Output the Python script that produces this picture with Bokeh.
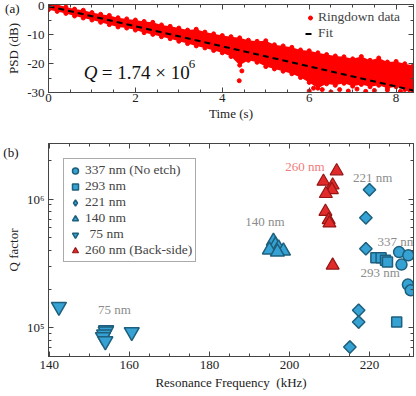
from bokeh.plotting import figure
from bokeh.layouts import column
from bokeh.models import (ColumnDataSource, Label, Legend, LegendItem, LinearAxis, LogAxis,
                          SingleIntervalTicker, FixedTicker, CustomJSTickFormatter)
from bokeh.core.properties import value
from bokeh.embed import file_html
from bokeh.resources import INLINE

FONT = "Liberation Serif"

# ---------------- panel (a): ringdown ----------------
ring_t = [0.0, 0.2, 0.4, 0.6, 0.8, 1.0, 1.2, 1.4, 1.6, 1.8, 2.0, 2.2, 2.4, 2.6, 2.8,
          3.0, 3.2, 3.4, 3.6, 3.8, 4.0, 4.2, 4.4, 4.6, 4.8, 5.0, 5.2, 5.4, 5.6, 5.8,
          6.0, 6.2, 6.4, 6.6, 6.8, 7.0, 7.2, 7.4, 7.6, 7.8, 8.0, 8.2, 8.4]
ring_hi = [1.0, 0.6, -0.3, -1.0, -1.4, -2.2, -2.8, -3.2, -4.0, -4.4, -4.8, -5.3, -5.6, -6.5, -7.0,
           -7.6, -8.3, -8.0, -9.0, -9.6, -10.2, -10.6, -11.0, -11.8, -12.2, -12.0, -13.4, -13.8, -14.3, -15.2,
           -15.5, -16.2, -16.8, -17.3, -17.6, -18.3, -17.5, -18.8, -18.0, -19.4, -19.2, -20.0, -20.6]
ring_lo = [-1.2, -1.8, -2.5, -3.4, -4.1, -4.8, -5.6, -6.4, -7.2, -7.6, -8.3, -9.2, -9.8, -10.6, -11.3,
           -12.2, -13.0, -13.8, -14.5, -15.4, -16.2, -17.5, -20.5, -18.8, -19.5, -21.0, -21.8, -22.6, -23.5, -24.8,
           -26.5, -28.5, -27.0, -27.5, -26.8, -27.8, -27.2, -28.0, -27.5, -28.5, -28.0, -29.0, -30.0]
out_t = [4.39, 4.45, 6.0, 6.1, 6.3, 6.5, 6.7, 6.9, 7.1, 7.3, 7.5, 7.8, 8.1, 8.3]
out_psd = [-25.9, -22.5, -29.5, -28.5, -29.0, -29.8, -29.0, -29.5, -28.8, -29.6, -29.3, -29.2, -29.6, -29.0]
fit_t = [0.0, 8.4]
fit_psd = [0.0, -29.3]

# ---------------- panel (b): Q vs frequency ----------------
f337 = [227.4, 229.7, 228.0, 229.6, 230.3]
q337 = [3.88e5, 3.66e5, 3.10e5, 2.17e5, 1.96e5]
f293 = [221.6, 222.9, 224.0, 224.5, 226.8]
q293 = [3.5e5, 3.5e5, 3.35e5, 3.25e5, 1.11e5]
f221 = [220.0, 219.1, 219.1, 217.3, 217.3, 215.1]
q221 = [1.18e6, 7.16e5, 4.12e5, 1.37e5, 1.11e5, 7.1e4]
f140 = [196.0, 196.5, 197.3, 198.5, 195.0, 197.0]
q140 = [4.72e5, 4.40e5, 4.17e5, 3.95e5, 4.03e5, 3.88e5]
f75 = [142.4, 154.2, 154.1, 153.7, 153.4, 154.0, 160.6]
q75 = [1.46e5, 9.6e4, 9.4e4, 8.9e4, 8.5e4, 7.9e4, 9.3e4]
f260 = [211.8, 208.5, 210.8, 210.6, 209.1, 209.0, 209.8, 210.0, 210.8]
q260 = [1.65e6, 1.37e6, 1.28e6, 1.18e6, 1.10e6, 8.0e5, 6.9e5, 6.5e5, 3.06e5]

ann_text = ["260 nm", "221 nm", "140 nm", "337 nm", "293 nm", "75 nm"]
ann_f = [203.9, 220.8, 193.9, 226.9, 222.7, 156.3]
ann_q = [1.80e6, 1.48e6, 6.64e5, 4.67e5, 2.67e5, 1.40e5]
ann_color = ["#f27b7b", "#8c8c8c", "#8c8c8c", "#8c8c8c", "#8c8c8c", "#8c8c8c"]

legend_labels = ["337 nm (No etch)", "293 nm", "221 nm", "140 nm", "\u200475 nm", "260 nm (Back-side)"]
panel_tags = ["(a)", "(b)"]

BLUE_F, BLUE_L = "#36a2d4", "#1d5f7c"
RED_F, RED_L = "#e12b2b", "#951515"
AX = "#444444"
BLANK = CustomJSTickFormatter(code="return ''")


def style_axis(ax, labels=True, tick_std=4, lab_std=4):
    ax.axis_line_color = AX
    ax.major_tick_line_color = AX
    ax.minor_tick_line_color = AX
    ax.major_tick_in = 5
    ax.major_tick_out = 0
    ax.minor_tick_in = 3
    ax.minor_tick_out = 0
    ax.major_label_text_font = FONT
    ax.major_label_text_color = "#222222"
    ax.major_label_text_font_size = "13px"
    ax.axis_label_text_font = FONT
    ax.axis_label_text_font_style = "normal"
    ax.axis_label_text_font_size = "13px"
    ax.axis_label_text_color = "#222222"
    if labels:
        ax.major_label_standoff = tick_std
        ax.axis_label_standoff = lab_std
    else:
        ax.formatter = BLANK
        ax.major_label_standoff = 0


def tag_axis(axis_cls, tick, tag):
    # an outer, line-less axis whose single tick label is the panel tag
    ax = axis_cls(ticker=FixedTicker(ticks=[tick], minor_ticks=[]),
                  formatter=CustomJSTickFormatter(code="return '%s'" % tag))
    ax.axis_line_color = None
    ax.major_tick_line_color = None
    ax.minor_tick_line_color = None
    ax.major_tick_in = 0
    ax.major_tick_out = 0
    ax.major_label_standoff = -16
    ax.major_label_text_font = FONT
    ax.major_label_text_font_size = "13px"
    ax.major_label_text_color = "#111111"
    return ax


# ---- figure (a)
p1 = figure(width=415, height=126, x_range=(0, 8.4), y_range=(-30, 0.6),
            output_backend="svg", toolbar_location=None,
            min_border_left=48, min_border_right=2, min_border_top=4, min_border_bottom=34)
p1.grid.visible = False
p1.outline_line_color = AX

p1.varea(x=ring_t, y1=ring_lo, y2=ring_hi, fill_color="#ff0000")
r_data = p1.scatter(ring_t + ring_t + out_t, ring_hi + ring_lo + out_psd, size=4,
                    marker="circle", fill_color="#ff0000", line_color="#ff0000")
r_fit = p1.line(fit_t, fit_psd, line_color="black", line_width=2, line_dash="6 4")

p1.xaxis.ticker = SingleIntervalTicker(interval=2, num_minor_ticks=4)
p1.yaxis.ticker = SingleIntervalTicker(interval=10, num_minor_ticks=2)
p1.xaxis.axis_label = "Time (s)"
p1.yaxis.axis_label = "PSD (dB)"
for ax in p1.xaxis:
    style_axis(ax, tick_std=1, lab_std=1)
for ax in p1.yaxis:
    style_axis(ax, tick_std=4, lab_std=3)
p1.yaxis.major_label_overrides = {0: "0", -10: "-10", -20: "-20", -30: "-30"}
top1 = LinearAxis(ticker=SingleIntervalTicker(interval=2, num_minor_ticks=4))
right1 = LinearAxis(ticker=SingleIntervalTicker(interval=10, num_minor_ticks=2))
style_axis(top1, labels=False)
style_axis(right1, labels=False)
p1.add_layout(top1, "above")
p1.add_layout(right1, "right")
p1.add_layout(tag_axis(LinearAxis, -0.9, panel_tags[0]), "left")

leg1 = Legend(items=[LegendItem(label="Ringdown data", renderers=[r_data]),
                     LegendItem(label="Fit", renderers=[r_fit])],
              location="top_right", padding=2, spacing=0, margin=3,
              glyph_width=10, glyph_height=13, label_height=13, label_standoff=3,
              label_width=90,
              label_text_font=FONT, label_text_font_size="13.5px",
              border_line_alpha=0, background_fill_alpha=0)
p1.add_layout(leg1)

q_kw = dict(y=-23.1, text_font=FONT, text_font_size="19px", text_color="#111111",
            text_baseline="alphabetic")
p1.add_layout(Label(x=0.81, text="Q", text_font_style="italic", **q_kw))
p1.add_layout(Label(x=0.81, x_offset=18, text="= 1.74 \u00d7 10", **q_kw))
p1.add_layout(Label(x=0.81, x_offset=105, y=-23.1, y_offset=9, text="6", text_font=FONT,
                    text_font_size="13px", text_color="#111111", text_baseline="alphabetic"))

# ---- figure (b)
p2 = figure(width=415, height=269, x_range=(139.8, 231.0), y_range=(6.0e4, 2.7e6),
            y_axis_type="log", output_backend="svg", toolbar_location=None,
            min_border_left=48, min_border_right=2, min_border_top=17, min_border_bottom=39)
p2.grid.visible = False
p2.outline_line_color = AX

r337 = p2.scatter(f337, q337, marker="circle", size=11, fill_color=BLUE_F, line_color=BLUE_L, line_width=1.5)
r293 = p2.scatter(f293, q293, marker="square", size=10, fill_color=BLUE_F, line_color=BLUE_L, line_width=1.5)
r221_leg = p2.scatter(f221, q221, marker="diamond", size=12, fill_color=BLUE_F, line_color=BLUE_L, line_width=1.5)
p2.scatter(f221, q221, marker="square", angle=0.7854, size=8.8, fill_color=BLUE_F, line_color=BLUE_L, line_width=1.5)
r140 = p2.scatter(f140, q140, marker="triangle", size=14, fill_color=BLUE_F, line_color=BLUE_L, line_width=1.5)
r75 = p2.scatter(f75, q75, marker="inverted_triangle", size=15, fill_color=BLUE_F, line_color=BLUE_L, line_width=1.5)
r260 = p2.scatter(f260, q260, marker="triangle", size=13, fill_color=RED_F, line_color=RED_L, line_width=1.2)

ann_src = ColumnDataSource(dict(x=ann_f, y=ann_q, text=ann_text, color=ann_color))
p2.text(x="x", y="y", text="text", source=ann_src, text_color="color", text_font=value(FONT),
        text_font_size="13px", text_align="center", text_baseline="middle")

p2.xaxis.ticker = SingleIntervalTicker(interval=20, num_minor_ticks=4)
log_major = [1e5, 1e6]
log_minor = [6e4, 7e4, 8e4, 9e4, 2e5, 3e5, 4e5, 5e5, 6e5, 7e5, 8e5, 9e5, 2e6]
p2.yaxis.ticker = FixedTicker(ticks=log_major, minor_ticks=log_minor)
p2.yaxis.major_label_overrides = {100000: "10\u2075", 1000000: "10\u2076"}
p2.xaxis.axis_label = "Resonance Frequency \u00a0(kHz)"
p2.yaxis.axis_label = "Q factor"
for ax in p2.xaxis:
    style_axis(ax, tick_std=4, lab_std=3)
for ax in p2.yaxis:
    style_axis(ax, tick_std=4, lab_std=3)
top2 = LinearAxis(ticker=SingleIntervalTicker(interval=20, num_minor_ticks=4))
right2 = LogAxis(ticker=FixedTicker(ticks=log_major, minor_ticks=log_minor))
style_axis(top2, labels=False)
style_axis(right2, labels=False)
p2.add_layout(top2, "above")
p2.add_layout(right2, "right")
p2.add_layout(tag_axis(LogAxis, 2.3e6, panel_tags[1]), "left")

leg2 = Legend(items=[LegendItem(label=legend_labels[0], renderers=[r337]),
                     LegendItem(label=legend_labels[1], renderers=[r293]),
                     LegendItem(label=legend_labels[2], renderers=[r221_leg]),
                     LegendItem(label=legend_labels[3], renderers=[r140]),
                     LegendItem(label=legend_labels[4], renderers=[r75]),
                     LegendItem(label=legend_labels[5], renderers=[r260])],
              location="top_left", margin=15, padding=3, spacing=0,
              glyph_width=16, glyph_height=15, label_height=14, label_standoff=2,
              label_text_font=FONT, label_text_font_size="13.5px",
              border_line_color="#555555", border_line_width=1,
              background_fill_color="white", background_fill_alpha=1)
p2.add_layout(leg2)

layout = column(p1, p2, spacing=0)
open("out.html", "w").write(file_html(layout, INLINE))
